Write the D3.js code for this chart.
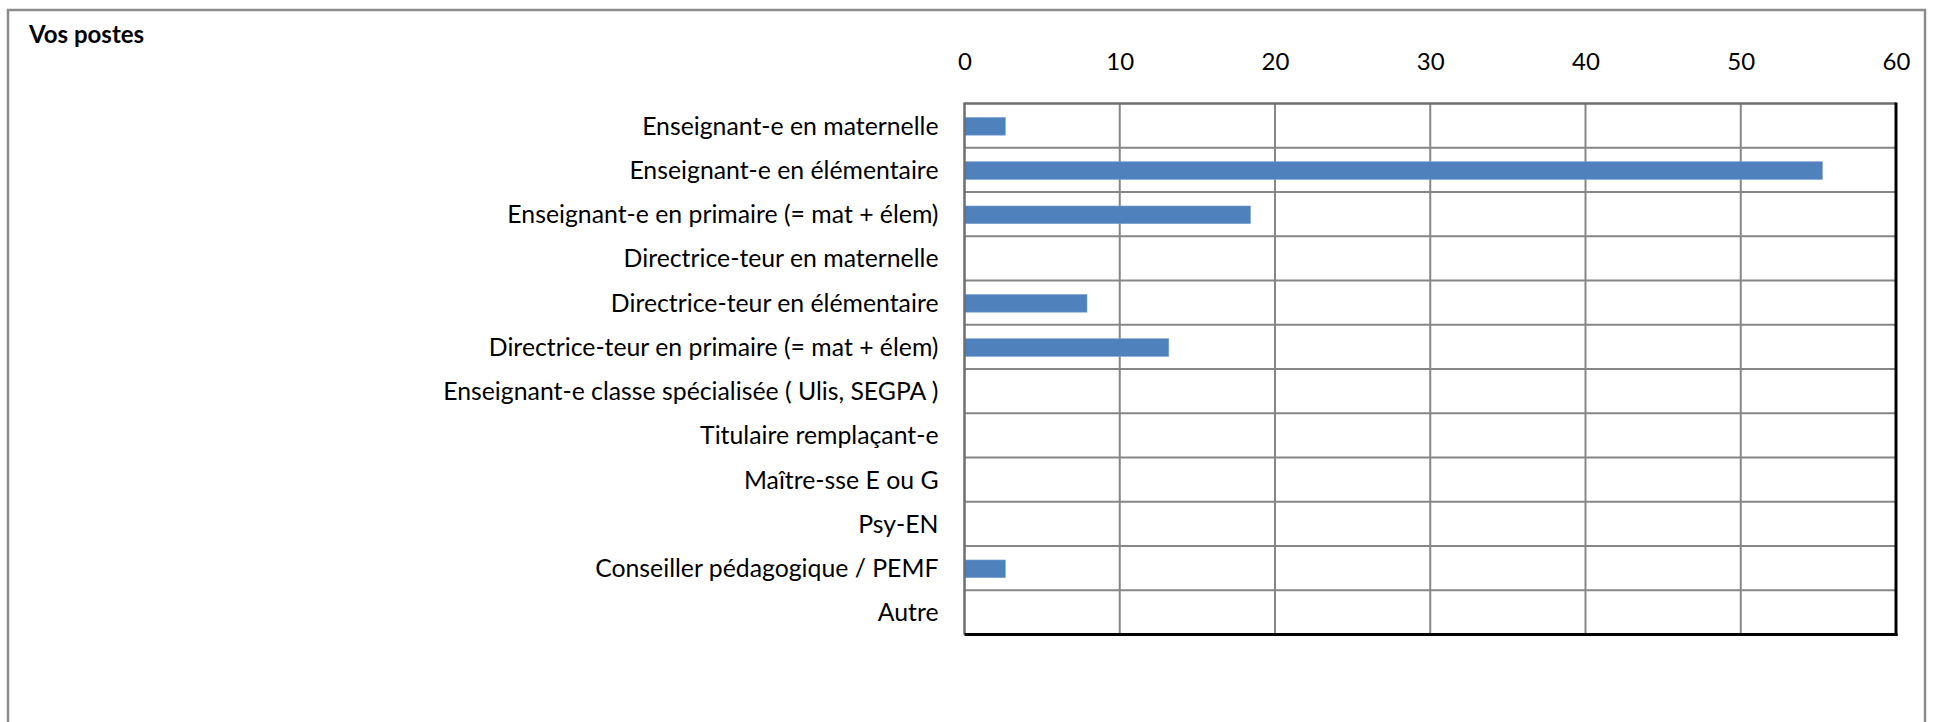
<!DOCTYPE html>
<html>
<head>
<meta charset="utf-8">
<script src="https://cdn.jsdelivr.net/npm/d3@7"></script>
<style>
  body { margin: 0; background: #ffffff; }
</style>
</head>
<body>
<div id="chart"></div>
<script>
let font = "Lato"

// Daten: Anzahl in Prozent (auf 38 Antworten)
let postes = [
    "Enseignant-e en maternelle",
    "Enseignant-e en élémentaire",
    "Enseignant-e en primaire (= mat + élem)",
    "Directrice-teur en maternelle",
    "Directrice-teur en élémentaire",
    "Directrice-teur en primaire (= mat + élem)",
    "Enseignant-e classe spécialisée ( Ulis, SEGPA )",
    "Titulaire remplaçant-e",
    "Maître-sse E ou G",
    "Psy-EN",
    "Conseiller pédagogique / PEMF",
    "Autre"
]
let werte = [2.63, 55.26, 18.42, 0, 7.89, 13.16, 0, 0, 0, 0, 2.63, 0]
let xTicks = [0, 10, 20, 30, 40, 50, 60]

function zeichne() {
    let width = 1937, height = 722;
    let plot = { left: 964.5, right: 1896, top: 103.5, bottom: 634.5 };

    let svg = d3.select("#chart").append("svg")
        .attr("width", width)
        .attr("height", height);

    // aeusserer Rahmen
    svg.append("rect")
        .attr("x", 8).attr("y", 10)
        .attr("width", 1917).attr("height", 740)
        .attr("fill", "none")
        .attr("stroke", "#8c8c8c")
        .attr("stroke-width", 2.5);

    svg.append("text")
        .attr("x", 29).attr("y", 43)
        .attr("font-family", font)
        .attr("font-weight", "bold")
        .attr("font-size", "24px")
        .attr("fill", "#000")
        .text("Vos postes");

    let x = d3.scaleLinear().domain([0, 60]).range([plot.left, plot.right]);
    let y = d3.scaleBand().domain(postes).range([plot.top, plot.bottom]).padding(0);

    // Gitterlinien
    svg.append("g").selectAll("line").data(xTicks.slice(1, -1))
        .enter().append("line")
        .attr("x1", d => x(d)).attr("x2", d => x(d))
        .attr("y1", plot.top).attr("y2", plot.bottom)
        .attr("stroke", "#868686").attr("stroke-width", 2);

    svg.append("g").selectAll("line").data(postes.slice(1))
        .enter().append("line")
        .attr("x1", plot.left).attr("x2", plot.right)
        .attr("y1", d => y(d)).attr("y2", d => y(d))
        .attr("stroke", "#868686").attr("stroke-width", 2);

    // Balken
    let bh = y.bandwidth() * 0.4;
    svg.append("g").selectAll(".bar").data(werte)
        .enter().append("rect")
        .attr("class", "bar")
        .attr("x", x(0))
        .attr("y", (d, i) => y(postes[i]) + (y.bandwidth() - bh) / 2 + 0.7)
        .attr("width", d => x(d) - x(0))
        .attr("height", d => d > 0 ? bh : 0)
        .attr("fill", "#4f81bd")
        .attr("stroke", "#7ea3d1")
        .attr("stroke-width", 0.6);

    // Rahmen Plotbereich: links/oben grau, rechts/unten schwarz
    svg.append("line")
        .attr("x1", plot.left).attr("x2", plot.right)
        .attr("y1", plot.top).attr("y2", plot.top)
        .attr("stroke", "#6e6e6e").attr("stroke-width", 2.5);
    svg.append("line")
        .attr("x1", plot.left).attr("x2", plot.left)
        .attr("y1", plot.top - 1).attr("y2", plot.bottom)
        .attr("stroke", "#6e6e6e").attr("stroke-width", 2.5);
    svg.append("line")
        .attr("x1", plot.right).attr("x2", plot.right)
        .attr("y1", plot.top - 1).attr("y2", plot.bottom + 1.5)
        .attr("stroke", "#000").attr("stroke-width", 3);
    svg.append("line")
        .attr("x1", plot.left).attr("x2", plot.right + 1.5)
        .attr("y1", plot.bottom).attr("y2", plot.bottom)
        .attr("stroke", "#000").attr("stroke-width", 3);

    // x Achse oben
    let xAchse = svg.append("g")
        .attr("transform", "translate(0,70)")
        .call(d3.axisTop(x).tickValues(xTicks).tickSize(0).tickPadding(0));
    xAchse.select(".domain").remove();
    xAchse.selectAll("text")
        .attr("font-family", font)
        .attr("font-size", "24px")
        .attr("fill", "#000");

    // y Achse links
    let yAchse = svg.append("g")
        .attr("transform", "translate(" + plot.left + ",0)")
        .call(d3.axisLeft(y).tickSize(0).tickPadding(26));
    yAchse.select(".domain").remove();
    yAchse.selectAll("text")
        .attr("font-family", font)
        .attr("font-size", "24.8px")
        .attr("dy", "0.36em")
        .attr("fill", "#000");
}

zeichne();
</script>
</body>
</html>
